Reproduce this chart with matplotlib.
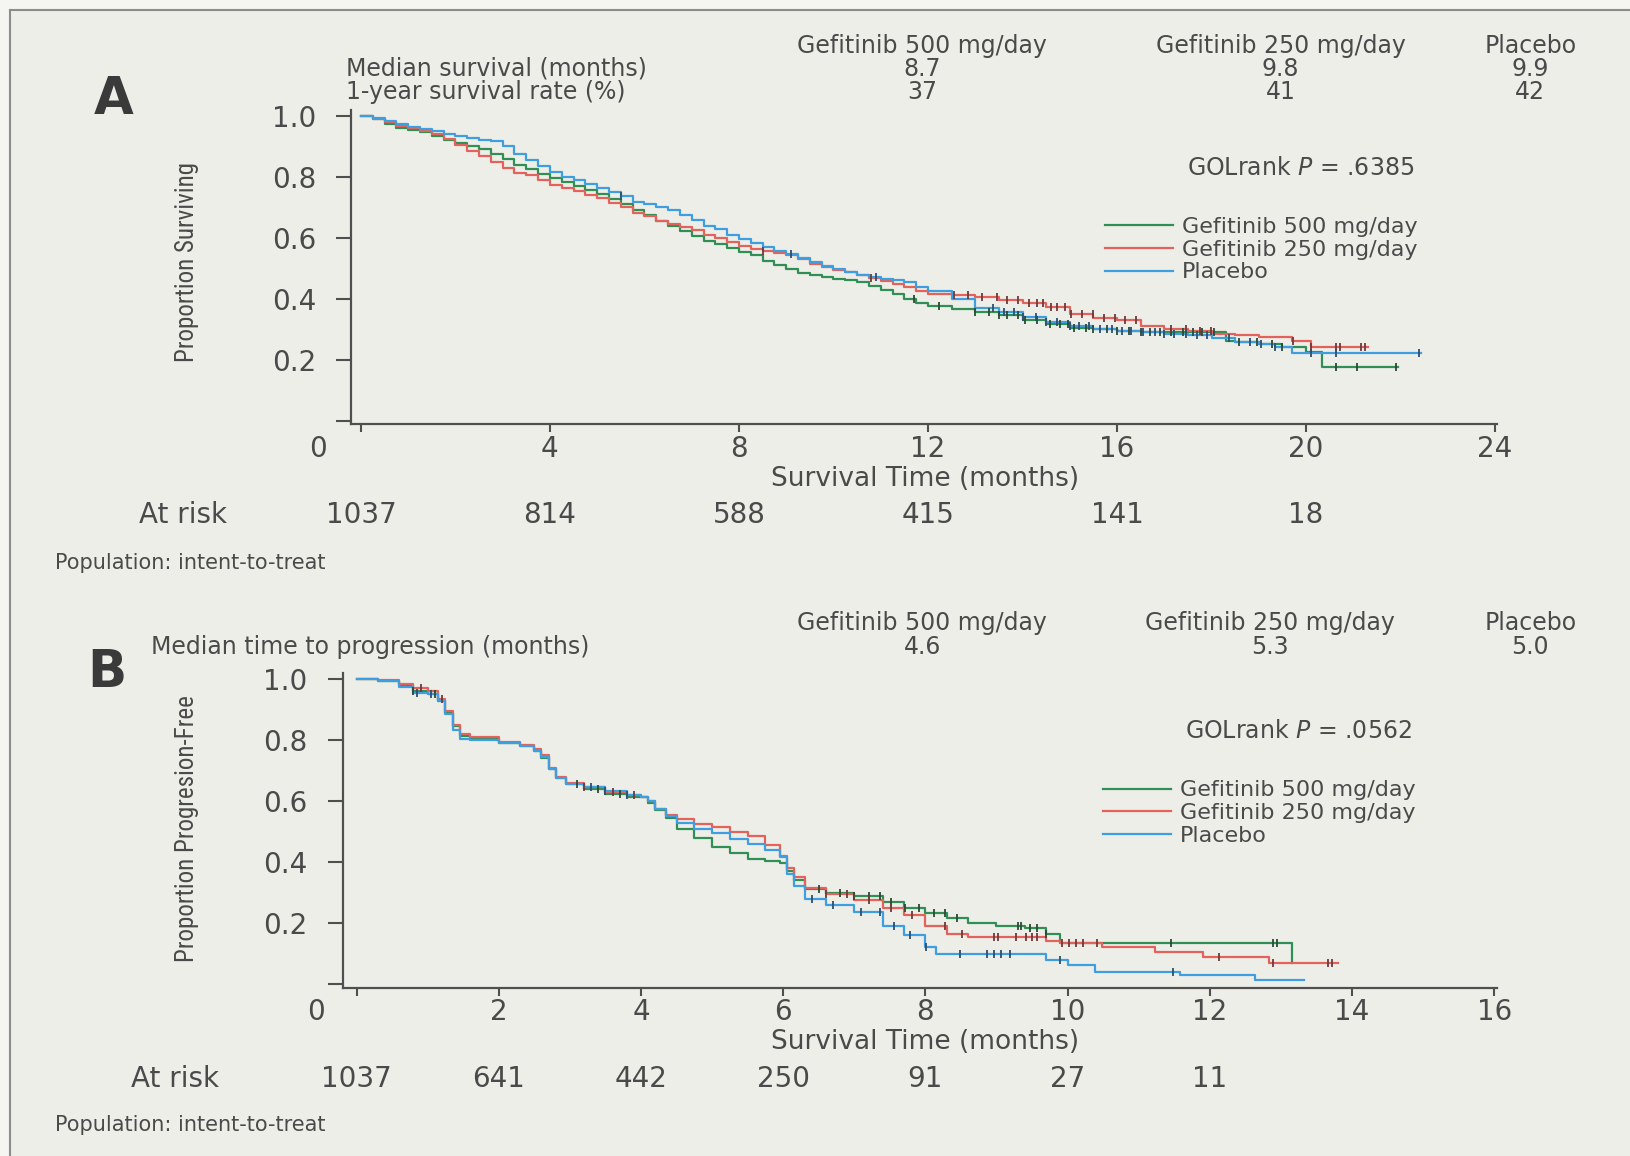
import numpy as np
import matplotlib
matplotlib.use("Agg")
import matplotlib.pyplot as plt
import matplotlib.transforms as mtransforms
from matplotlib import font_manager
from matplotlib.lines import Line2D
from matplotlib.patches import Rectangle

# ---------------- data ----------------
arms = ["Gefitinib 500 mg/day", "Gefitinib 250 mg/day", "Placebo"]
os_median = ["8.7", "9.8", "9.9"]
os_1yr = ["37", "41", "42"]
ttp_median = ["4.6", "5.3", "5.0"]
os_pvalue = ".6385"
ttp_pvalue = ".0562"

os_ticks = [0, 4, 8, 12, 16, 20, 24]
os_atrisk_t = [0, 4, 8, 12, 16, 20]
os_atrisk = [1037, 814, 588, 415, 141, 18]
ttp_ticks = [0, 2, 4, 6, 8, 10, 12, 14, 16]
ttp_atrisk_t = [0, 2, 4, 6, 8, 10, 12]
ttp_atrisk = [1037, 641, 442, 250, 91, 27, 11]
y_ticks = [0, 0.2, 0.4, 0.6, 0.8, 1.0]

# Panel A: overall survival (step times / survival)
os_t_500 = [0, 0.25, 0.5, 0.75, 1.0, 1.25, 1.5, 1.75, 2.0, 2.25, 2.5, 2.75, 3.0, 3.25,
            3.5, 3.75, 4.0, 4.25, 4.5, 4.75, 5.0, 5.25, 5.5, 5.75, 6.0, 6.25, 6.5, 6.75,
            7.0, 7.25, 7.5, 7.75, 8.0, 8.25, 8.5, 8.75, 9.0, 9.25, 9.5, 9.75, 10.0, 10.25,
            10.5, 10.75, 11.0, 11.25, 11.5, 11.75, 12.0, 12.5, 13.0, 13.5, 14.0, 14.5,
            15.0, 15.5, 16.0, 16.5, 17.0, 17.5, 18.3, 18.5, 19.0, 19.5, 20.0, 20.33, 21.95]
os_s_500 = [1.0, 0.99, 0.975, 0.962, 0.955, 0.948, 0.935, 0.922, 0.91, 0.90, 0.89, 0.875,
            0.86, 0.838, 0.825, 0.81, 0.795, 0.782, 0.77, 0.757, 0.745, 0.728, 0.71, 0.69,
            0.675, 0.655, 0.64, 0.622, 0.605, 0.59, 0.58, 0.568, 0.555, 0.542, 0.525,
            0.512, 0.497, 0.485, 0.478, 0.47, 0.465, 0.462, 0.455, 0.443, 0.43, 0.415,
            0.398, 0.387, 0.375, 0.365, 0.355, 0.345, 0.33, 0.318, 0.305, 0.30, 0.295,
            0.292, 0.29, 0.29, 0.262, 0.258, 0.252, 0.24, 0.225, 0.177, 0.177]
os_t_250 = [0, 0.25, 0.5, 0.75, 1.0, 1.25, 1.5, 1.75, 2.0, 2.25, 2.5, 2.75, 3.0, 3.25,
            3.5, 3.75, 4.0, 4.25, 4.5, 4.75, 5.0, 5.25, 5.5, 5.75, 6.0, 6.25, 6.5, 6.75,
            7.0, 7.25, 7.5, 7.75, 8.0, 8.25, 8.5, 8.75, 9.0, 9.25, 9.5, 9.75, 10.0, 10.25,
            10.5, 10.75, 11.0, 11.25, 11.5, 11.75, 12.0, 12.5, 13.0, 13.5, 14.0, 14.5,
            15.0, 15.5, 16.0, 16.5, 17.0, 17.5, 18.0, 18.5, 19.0, 19.7, 20.1, 21.3]
os_s_250 = [1.0, 0.99, 0.98, 0.968, 0.96, 0.95, 0.94, 0.925, 0.905, 0.885, 0.87, 0.85,
            0.83, 0.812, 0.805, 0.79, 0.775, 0.765, 0.755, 0.742, 0.73, 0.715, 0.70,
            0.682, 0.67, 0.655, 0.645, 0.635, 0.625, 0.61, 0.598, 0.585, 0.572, 0.562,
            0.556, 0.55, 0.545, 0.532, 0.515, 0.505, 0.495, 0.487, 0.477, 0.468, 0.458,
            0.447, 0.437, 0.425, 0.415, 0.412, 0.405, 0.395, 0.385, 0.372, 0.35, 0.338,
            0.33, 0.31, 0.30, 0.295, 0.285, 0.28, 0.273, 0.26, 0.243, 0.243]
os_t_pbo = [0, 0.25, 0.5, 0.75, 1.0, 1.25, 1.5, 1.75, 2.0, 2.25, 2.5, 2.75, 3.0, 3.25,
            3.5, 3.75, 4.0, 4.25, 4.5, 4.75, 5.0, 5.25, 5.5, 5.75, 6.0, 6.25, 6.5, 6.75,
            7.0, 7.25, 7.5, 7.75, 8.0, 8.25, 8.5, 8.75, 9.0, 9.25, 9.5, 9.75, 10.0, 10.25,
            10.5, 10.75, 11.0, 11.25, 11.5, 11.75, 12.0, 12.5, 13.0, 13.5, 14.0, 14.5,
            15.0, 15.5, 16.0, 16.5, 17.0, 17.5, 18.0, 18.5, 19.0, 19.35, 19.7, 22.44]
os_s_pbo = [1.0, 0.992, 0.985, 0.975, 0.965, 0.958, 0.95, 0.942, 0.935, 0.928, 0.92,
            0.917, 0.90, 0.875, 0.855, 0.835, 0.815, 0.80, 0.79, 0.778, 0.765, 0.75,
            0.737, 0.717, 0.71, 0.70, 0.69, 0.675, 0.66, 0.64, 0.628, 0.61, 0.595, 0.582,
            0.57, 0.558, 0.548, 0.535, 0.522, 0.508, 0.497, 0.487, 0.478, 0.472, 0.466,
            0.46, 0.455, 0.44, 0.425, 0.40, 0.37, 0.355, 0.34, 0.325, 0.31, 0.30, 0.295,
            0.29, 0.285, 0.28, 0.27, 0.258, 0.25, 0.243, 0.222, 0.222]
os_c_500 = [11.71, 12.24, 13.0, 13.3, 13.5, 13.68, 13.9, 14.06, 14.3, 14.59, 14.8, 14.96,
            15.1, 15.34, 15.5, 15.79, 16.0, 16.25, 16.5, 16.7, 16.9, 17.15, 17.4, 17.61,
            17.8, 18.06, 18.59, 18.97, 19.27, 19.5, 20.63, 21.08, 21.91]
os_c_250 = [8.5, 10.8, 12.55, 12.85, 13.15, 13.45, 13.68, 13.91, 14.13, 14.3, 14.44, 14.6,
            14.73, 14.9, 15.03, 15.26, 15.49, 15.72, 15.95, 16.17, 16.4, 17.15, 17.46,
            17.76, 17.99, 19.72, 20.1, 20.63, 20.71, 21.16, 21.24]
os_c_pbo = [5.5, 9.1, 10.9, 13.38, 13.6, 13.83, 14.0, 14.28, 14.5, 14.73, 15.0, 15.19,
            15.4, 15.64, 15.9, 16.1, 16.3, 16.55, 16.8, 17.0, 17.2, 17.46, 17.7, 17.91,
            18.36, 18.82, 19.04, 19.35, 20.1, 20.63, 22.4]

# Panel B: time to progression
ttp_t_500 = [0, 0.3, 0.6, 0.8, 1.0, 1.15, 1.25, 1.35, 1.45, 1.6, 2.0, 2.3, 2.5, 2.6, 2.7,
             2.8, 2.95, 3.2, 3.5, 3.8, 4.0, 4.1, 4.2, 4.35, 4.5, 4.75, 5.0, 5.25, 5.5, 5.75,
             5.95, 6.05, 6.15, 6.3, 6.6, 7.0, 7.4, 7.7, 8.0, 8.3, 8.6, 9.0, 9.4, 9.7, 9.9,
             13.15]
ttp_s_500 = [1.0, 0.995, 0.98, 0.96, 0.95, 0.93, 0.89, 0.845, 0.815, 0.805,
             0.79, 0.78, 0.765, 0.74, 0.705, 0.675, 0.655, 0.64, 0.625, 0.615,
             0.612, 0.595, 0.57, 0.545, 0.51, 0.48, 0.45, 0.43, 0.41, 0.402,
             0.398, 0.37, 0.34, 0.31, 0.30, 0.29, 0.27, 0.25, 0.232, 0.215,
             0.20, 0.19, 0.185, 0.165, 0.133, 0.068]
ttp_t_250 = [0, 0.3, 0.6, 0.8, 1.0, 1.15, 1.25, 1.35, 1.45, 1.6, 2.0, 2.3, 2.5, 2.6, 2.7,
             2.8, 2.95, 3.2, 3.5, 3.8, 4.0, 4.1, 4.2, 4.35, 4.5, 4.75, 5.0, 5.25, 5.5, 5.75,
             5.95, 6.05, 6.15, 6.3, 6.6, 7.0, 7.4, 7.7, 8.0, 8.3, 8.6, 9.7, 9.9, 10.48,
             11.23, 11.91, 12.84, 13.81]
ttp_s_250 = [1.0, 0.997, 0.985, 0.97, 0.96, 0.935, 0.895, 0.85, 0.82, 0.81,
             0.795, 0.785, 0.77, 0.75, 0.71, 0.68, 0.66, 0.645, 0.63, 0.62,
             0.615, 0.60, 0.575, 0.555, 0.54, 0.525, 0.515, 0.50, 0.485, 0.455,
             0.42, 0.38, 0.35, 0.315, 0.295, 0.275, 0.25, 0.225, 0.19, 0.165,
             0.155, 0.14, 0.133, 0.122, 0.106, 0.089, 0.068, 0.068]
ttp_t_pbo = [0, 0.3, 0.6, 0.8, 1.0, 1.15, 1.25, 1.35, 1.45, 1.6, 2.0, 2.3, 2.5, 2.6, 2.7,
             2.8, 2.95, 3.2, 3.5, 3.8, 4.0, 4.1, 4.2, 4.35, 4.5, 4.75, 5.0, 5.25, 5.5, 5.75,
             5.95, 6.05, 6.15, 6.3, 6.6, 7.0, 7.4, 7.7, 8.0, 8.15, 9.7, 10.0, 10.38, 11.58,
             12.64, 13.32]
ttp_s_pbo = [1.0, 0.995, 0.975, 0.955, 0.95, 0.93, 0.885, 0.835, 0.805, 0.80,
             0.79, 0.78, 0.765, 0.745, 0.705, 0.675, 0.655, 0.645, 0.632, 0.62,
             0.615, 0.60, 0.575, 0.55, 0.527, 0.51, 0.495, 0.475, 0.46, 0.44,
             0.415, 0.36, 0.32, 0.28, 0.26, 0.235, 0.19, 0.16, 0.12, 0.098,
             0.08, 0.062, 0.04, 0.029, 0.013, 0.013]
ttp_c_500 = [0.8, 1.1, 3.1, 3.4, 3.7, 6.5, 6.8, 7.0, 7.2, 7.36, 7.51, 7.71, 7.91, 8.12,
             8.27, 8.44, 9.3, 9.35, 9.47, 9.57, 9.7, 11.45, 12.89, 12.94]
ttp_c_250 = [0.9, 1.2, 3.2, 3.6, 3.9, 6.6, 6.9, 7.2, 7.51, 7.81, 8.27, 8.52, 8.97, 9.02,
             9.27, 9.42, 9.5, 9.57, 9.92, 10.02, 10.12, 10.22, 10.42, 12.13, 12.89,
             13.67, 13.72]
ttp_c_pbo = [0.85, 1.05, 3.3, 3.5, 3.8, 6.4, 6.7, 7.1, 7.36, 7.56, 7.79, 8.01, 8.49,
             8.87, 8.97, 9.07, 9.19, 9.89, 11.48]

# ---------------- style ----------------
COL = ["#2f8f55", "#e4625c", "#3f9ee0"]
CEN = ["#2b4a38", "#6e3a3a", "#2e4f6e"]
TXT = "#4a4a4a"
AXC = "#4f4f4f"
BG = "#eeeee9"
OUT = "#f5f5f2"

plt.rcParams["font.family"] = ["DejaVu Sans"]

# pick a narrow face for the rotated axis titles if one is installed
ylab_font = dict(family=["DejaVu Sans"], size=15)
_entries = font_manager.fontManager.ttflist
_names = {f.name for f in _entries}
for cand in ["Liberation Sans Narrow", "Roboto Condensed", "Open Sans Condensed",
             "Noto Sans Condensed"]:
    if cand in _names:
        ylab_font = dict(family=[cand], size=18)
        break
else:
    for f in _entries:
        if f.name == "DejaVu Sans" and str(f.stretch) in ("condensed", "semi-condensed") \
                and f.style == "normal" and f.weight in (400, "normal"):
            ylab_font = dict(family=["DejaVu Sans"], stretch="condensed", size=16)
            break

fig = plt.figure(figsize=(16.3, 11.56), dpi=100, facecolor=OUT)
fig.add_artist(Rectangle((0.00613, 0), 1.0, 0.9913, transform=fig.transFigure,
                         facecolor=BG, edgecolor="none", zorder=-10))
fig.add_artist(Line2D([0.00613, 0.00613], [0, 0.9913], transform=fig.transFigure,
                      color="#8c8c8c", lw=1.5))
fig.add_artist(Line2D([0.00613, 1.0], [0.9913, 0.9913], transform=fig.transFigure,
                      color="#8c8c8c", lw=1.5))


def km(ax, t, s, cens, color, ccolor, label):
    ln, = ax.step(t, s, where="post", color=color, lw=1.6, label=label, zorder=3)
    t = np.asarray(t)
    s = np.asarray(s)
    c = np.asarray(cens)
    idx = np.searchsorted(t, c, side="right") - 1
    ax.plot(c, s[idx], ls="none", marker="|", ms=6, mew=1.3, color=ccolor, zorder=4)
    return ln


def style_axes(ax, xlim, ylim, xticks):
    ax.set_facecolor("none")
    ax.set_xlim(*xlim)
    ax.set_ylim(*ylim)
    for sp in ["top", "right"]:
        ax.spines[sp].set_visible(False)
    for sp in ["left", "bottom"]:
        ax.spines[sp].set_color(AXC)
        ax.spines[sp].set_linewidth(1.6)
    ax.set_xticks(xticks)
    ax.set_xticklabels([""] + [str(v) for v in xticks[1:]])
    ax.set_yticks(y_ticks)
    ax.set_yticklabels([""] + ["%.1f" % v for v in y_ticks[1:]])
    ax.tick_params(axis="y", direction="out", length=10.5, width=1.5, color=AXC,
                   pad=15, labelsize=20, labelcolor=TXT)
    ax.tick_params(axis="x", direction="out", length=5.8, width=1.5, color=AXC,
                   pad=2, labelsize=20, labelcolor=TXT)


def panel(letter, ax_rect, xlim, ylim, xticks, curves, header_y, rows, p, pval_y,
          leg_top, leg_x, ylabel, ylab_y, xlab_y, zero_xy, risk_t, risk_n, risk_y,
          risk_lab_x, pop_y, letter_xy, cols):
    ax = fig.add_axes(ax_rect)
    style_axes(ax, xlim, ylim, xticks)
    handles = []
    for (t, s, c), col, ccol, lab in zip(curves, COL, CEN, arms):
        handles.append(km(ax, t, s, c, col, ccol, lab))
    ax.legend(handles, arms, loc="upper left", bbox_to_anchor=(leg_x, leg_top),
              bbox_transform=fig.transFigure, frameon=False, fontsize=16,
              handlelength=3.05, handletextpad=0.42, labelspacing=0.12, borderpad=0,
              borderaxespad=0, labelcolor=TXT)
    fig.text(letter_xy[0], letter_xy[1], letter, fontsize=37, fontweight="bold",
             color="#3a3a3a", ha="center", va="baseline")
    for x, a in zip(cols, arms):
        fig.text(x, header_y, a, fontsize=17, color=TXT, ha="center", va="baseline")
    for (lx, ly, lab, vals) in rows:
        fig.text(lx, ly, lab, fontsize=17, color=TXT, ha="left", va="baseline")
        for x, v in zip(cols, vals):
            fig.text(x, ly, v, fontsize=17, color=TXT, ha="center", va="baseline")
    fig.text(leg_x + 0.05, pval_y, r"GOLrank $\mathit{P}$ = " + p, fontsize=17,
             color=TXT, ha="left", va="baseline")
    fig.text(0.1148, ylab_y, ylabel, rotation=90, color=TXT, ha="center",
             va="center", **ylab_font)
    fig.text(0.5676, xlab_y, "Survival Time (months)", fontsize=19, color=TXT,
             ha="center", va="baseline")
    fig.text(zero_xy[0], zero_xy[1], "0", fontsize=20, color=TXT, ha="center",
             va="baseline")
    tr = mtransforms.blended_transform_factory(ax.transData, fig.transFigure)
    for t, n in zip(risk_t, risk_n):
        ax.text(t, risk_y, str(n), transform=tr, fontsize=20, color=TXT,
                ha="center", va="baseline")
    fig.text(risk_lab_x, risk_y, "At risk", fontsize=20, color=TXT, ha="center",
             va="baseline")
    fig.text(0.0335, pop_y, "Population: intent-to-treat", fontsize=15, color=TXT,
             ha="left", va="baseline")
    return ax


panel("A", [0.2156, 0.6331, 0.9184 - 0.2156, 0.9047 - 0.6331], (-0.2, 24.04),
      (-0.0116, 1.019), os_ticks,
      [(os_t_500, os_s_500, os_c_500), (os_t_250, os_s_250, os_c_250),
       (os_t_pbo, os_s_pbo, os_c_pbo)],
      0.9541,
      [(0.2124, 0.9343, "Median survival (months)", os_median),
       (0.2124, 0.9146, "1-year survival rate (%)", os_1yr)],
      os_pvalue, 0.8489, 0.8122, 0.678, "Proportion Surviving", 0.7734, 0.580,
      (0.195, 0.6043), os_atrisk_t, os_atrisk, 0.5477, 0.1122, 0.5081,
      (0.0698, 0.9011), [0.5657, 0.7857, 0.9388])

panel("B", [0.2105, 0.1457, 0.9184 - 0.2105, 0.4182 - 0.1457], (-0.19, 16.04),
      (-0.012, 1.022), ttp_ticks,
      [(ttp_t_500, ttp_s_500, ttp_c_500), (ttp_t_250, ttp_s_250, ttp_c_250),
       (ttp_t_pbo, ttp_s_pbo, ttp_c_pbo)],
      0.455,
      [(0.0925, 0.4344, "Median time to progression (months)", ttp_median)],
      ttp_pvalue, 0.3615, 0.3249, 0.6767, "Proportion Progresion-Free", 0.2833, 0.0926,
      (0.194, 0.1178), ttp_atrisk_t, ttp_atrisk, 0.0594, 0.1071, 0.0216,
      (0.0657, 0.4056), [0.5657, 0.7793, 0.9388])

fig.savefig("out.png", dpi=100, facecolor=fig.get_facecolor())
